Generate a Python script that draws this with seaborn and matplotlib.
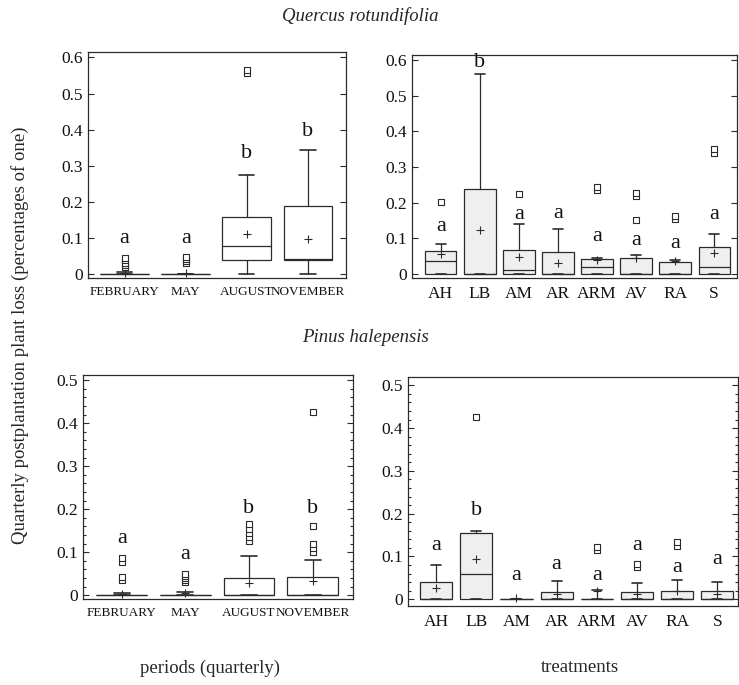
import pandas as pd
import seaborn as sns
import matplotlib.pyplot as plt
from matplotlib.ticker import MultipleLocator

# categories
periods = ["FEBRUARY", "MAY", "AUGUST", "NOVEMBER"]
treatments = ["AH", "LB", "AM", "AR", "ARM", "AV", "RA", "S"]

# Quercus rotundifolia - periods
qp_q1 = [0, 0, 0.04, 0.04]
qp_med = [0, 0, 0.077, 0.041]
qp_q3 = [0, 0, 0.157, 0.19]
qp_lo = [0, 0, 0, 0]
qp_hi = [0.005, 0.0, 0.275, 0.345]
qp_mean = [0.003, 0.002, 0.11, 0.097]
qp_out = [[0.02, 0.026, 0.032, 0.038, 0.044], [0.03, 0.036, 0.042, 0.048], [0.556, 0.566], []]
qp_letters = ["a", "a", "b", "b"]
qp_letter_y = [0.1, 0.1, 0.335, 0.395]

# Quercus rotundifolia - treatments
qt_q1 = [0, 0, 0, 0, 0, 0, 0, 0]
qt_med = [0.037, 0, 0.011, 0, 0.019, 0, 0, 0.02]
qt_q3 = [0.063, 0.238, 0.067, 0.06, 0.041, 0.045, 0.033, 0.075]
qt_lo = [0, 0, 0, 0, 0, 0, 0, 0]
qt_hi = [0.083, 0.56, 0.139, 0.125, 0.044, 0.053, 0.038, 0.112]
qt_mean = [0.055, 0.122, 0.047, 0.03, 0.04, 0.044, 0.035, 0.058]
qt_out = [[0.203], [], [0.224], [], [0.235, 0.245], [0.15, 0.218, 0.228], [0.155, 0.163], [0.338, 0.35]]
qt_letters = ["a", "b", "a", "a", "a", "a", "a", "a"]
qt_letter_y = [0.132, 0.593, 0.166, 0.169, 0.104, 0.095, 0.086, 0.166]

# Pinus halepensis - periods
pp_q1 = [0, 0, 0, 0]
pp_med = [0, 0, 0, 0]
pp_q3 = [0, 0, 0.04, 0.042]
pp_lo = [0, 0, 0, 0]
pp_hi = [0.004, 0.008, 0.092, 0.081]
pp_mean = [0.002, 0.004, 0.029, 0.033]
pp_out = [[0.035, 0.043, 0.077, 0.086], [0.03, 0.035, 0.04, 0.045, 0.05],
          [0.125, 0.135, 0.145, 0.155, 0.165], [0.1, 0.11, 0.12, 0.16, 0.425]]
pp_letters = ["a", "a", "b", "b"]
pp_letter_y = [0.132, 0.094, 0.202, 0.202]

# Pinus halepensis - treatments
pt_q1 = [0, 0, 0, 0, 0, 0, 0, 0]
pt_med = [0, 0.06, 0, 0, 0, 0, 0, 0]
pt_q3 = [0.039, 0.155, 0, 0.017, 0, 0.016, 0.02, 0.02]
pt_lo = [0, 0, 0, 0, 0, 0, 0, 0]
pt_hi = [0.081, 0.16, 0, 0.042, 0.021, 0.038, 0.044, 0.041]
pt_mean = [0.025, 0.095, 0.003, 0.011, 0.02, 0.013, 0.019, 0.011]
pt_out = [[], [0.425], [], [], [0.115, 0.122], [0.075, 0.082], [0.125, 0.133], []]
pt_letters = ["a", "b", "a", "a", "a", "a", "a", "a"]
pt_letter_y = [0.126, 0.208, 0.056, 0.082, 0.056, 0.126, 0.074, 0.093]

sns.set_theme(style="ticks")
plt.rcParams['font.family'] = ['Liberation Serif', 'DejaVu Serif']

EDGE = "#2b2b2b"


def draw_panel(ax, cats, q1, med, q3, lo, hi, mean, outs, letters, letter_y,
               fill, ylim, xlim, tick_fs, minor):
    stats = []
    for i, c in enumerate(cats):
        stats.append({"label": c, "q1": q1[i], "med": med[i], "q3": q3[i],
                      "whislo": lo[i], "whishi": hi[i], "fliers": []})
    pos = list(range(len(cats)))
    ax.bxp(stats, positions=pos, widths=0.8, capwidths=0.25, patch_artist=True,
           showfliers=False,
           boxprops=dict(facecolor=fill, edgecolor=EDGE, linewidth=0.9),
           medianprops=dict(color=EDGE, linewidth=0.9),
           whiskerprops=dict(color=EDGE, linewidth=0.9),
           capprops=dict(color=EDGE, linewidth=1.2))

    # means as small crosses
    mean_df = pd.DataFrame({"x": pos, "y": mean})
    sns.scatterplot(data=mean_df, x="x", y="y", ax=ax, marker="+", s=28,
                    color=EDGE, linewidth=0.8, zorder=4, legend=False)

    rows = [{"x": i, "y": v} for i, vals in enumerate(outs) for v in vals]
    if rows:
        out_df = pd.DataFrame(rows)
        sns.scatterplot(data=out_df, x="x", y="y", ax=ax, marker="s", s=13,
                        facecolor="white", edgecolor=EDGE, linewidth=0.8,
                        zorder=4, legend=False)

    for i, (t, y) in enumerate(zip(letters, letter_y)):
        ax.text(i, y, t, ha="center", va="center", fontsize=16, color="#111111")

    ax.set_xlim(*xlim)
    ax.set_ylim(*ylim)
    ax.set_xticks(pos)
    ax.set_xticklabels(cats, fontsize=tick_fs)
    ax.set_xlabel("")
    ax.set_ylabel("")
    ax.yaxis.set_major_locator(MultipleLocator(0.1))
    ax.set_yticklabels(["0" if abs(v) < 1e-9 else f"{v:.1f}" for v in ax.get_yticks()])
    if minor:
        ax.yaxis.set_minor_locator(MultipleLocator(0.02))
    ax.tick_params(axis="y", which="both", direction="in", left=True, right=True,
                   labelsize=12.5, length=4, width=0.8, colors=EDGE, labelcolor="#111111")
    ax.tick_params(axis="y", which="minor", length=2.5)
    ax.tick_params(axis="x", length=0, pad=6, labelcolor="#111111")
    for s in ax.spines.values():
        s.set_visible(True)
        s.set_linewidth(0.9)
        s.set_color(EDGE)


fig = plt.figure(figsize=(7.39, 6.85), dpi=100)

ax1 = fig.add_axes([0.119, 0.594, 0.349, 0.330])
draw_panel(ax1, periods, qp_q1, qp_med, qp_q3, qp_lo, qp_hi, qp_mean, qp_out,
           qp_letters, qp_letter_y, "white", (-0.011, 0.615), (-0.6, 3.62), 9.5, False)

ax2 = fig.add_axes([0.5575, 0.594, 0.44, 0.326])
draw_panel(ax2, treatments, qt_q1, qt_med, qt_q3, qt_lo, qt_hi, qt_mean, qt_out,
           qt_letters, qt_letter_y, "#efefef", (-0.012, 0.615), (-0.74, 7.59), 12.5, False)

ax3 = fig.add_axes([0.1123, 0.1255, 0.365, 0.327])
draw_panel(ax3, periods, pp_q1, pp_med, pp_q3, pp_lo, pp_hi, pp_mean, pp_out,
           pp_letters, pp_letter_y, "white", (-0.009, 0.512), (-0.61, 3.63), 9.5, True)

ax4 = fig.add_axes([0.552, 0.1153, 0.447, 0.334])
draw_panel(ax4, treatments, pt_q1, pt_med, pt_q3, pt_lo, pt_hi, pt_mean, pt_out,
           pt_letters, pt_letter_y, "#efefef", (-0.016, 0.519), (-0.7, 7.52), 12.5, True)

fig.text(0.487, 0.976, "Quercus rotundifolia", ha="center", va="center",
         fontsize=13.5, style="italic")
fig.text(0.494, 0.508, "Pinus halepensis", ha="center", va="center",
         fontsize=13.5, style="italic")
fig.text(0.027, 0.51, "Quarterly postplantation plant loss (percentages of one)",
         rotation=90, ha="center", va="center", fontsize=13.5)
fig.text(0.284, 0.025, "periods (quarterly)", ha="center", va="center", fontsize=13.5)
fig.text(0.785, 0.025, "treatments", ha="center", va="center", fontsize=13.5)

fig.savefig("out.png", dpi=100)
plt.close(fig)
